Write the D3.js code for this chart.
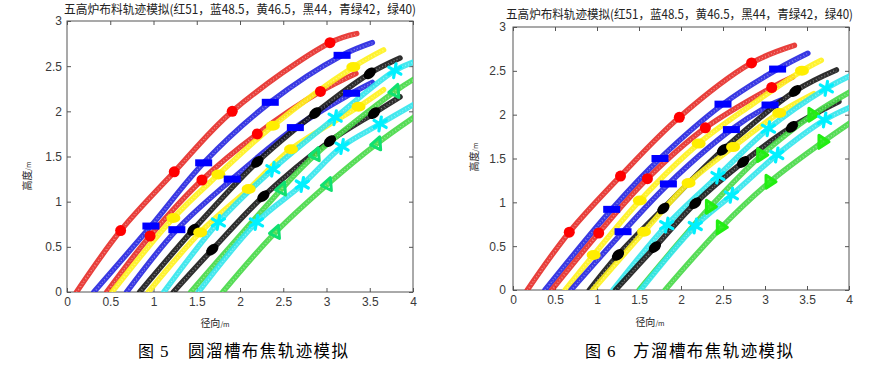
<!DOCTYPE html>
<html><head><meta charset="utf-8">
<script src="https://cdn.jsdelivr.net/npm/d3@7/dist/d3.min.js"></script>
<style>body{margin:0;background:#fff}svg{display:block}</style>
</head><body><svg id="c" width="886" height="369"></svg>
<script>
const titleText = "五高炉布料轨迹模拟(红51，蓝48.5，黄46.5，黑44，青绿42，绿40)";
const xTicks = [0,0.5,1,1.5,2,2.5,3,3.5,4];
const yTicks = [0,0.5,1,1.5,2,2.5,3];
const xLabel = "径向", yLabel = "高度", unitLabel = "/m";
const captions = [["图", "5", "圆溜槽布焦轨迹模拟"], ["图", "6", "方溜槽布焦轨迹模拟"]];
// series of each of the 12 trajectories (two per colour)
const curveSeries = ["红","蓝","红","黄","蓝","黑","黄","青绿","黑","绿","青绿","绿"];

// Fig 5 (round chute) trajectories [radial, height]
const fig5Lines = [
  [[0.11,0],[0.62,0.68],[1.24,1.33],[1.91,2.0],[3.04,2.76],[3.35,2.86]],
  [[0.31,0],[0.97,0.73],[1.58,1.43],[2.35,2.10],[3.18,2.62],[3.53,2.76]],
  [[0.46,0],[0.96,0.62],[1.56,1.24],[2.20,1.75],[2.93,2.22],[3.34,2.42]],
  [[0.52,0],[1.23,0.82],[1.75,1.30],[2.38,1.84],[3.31,2.49],[3.66,2.68]],
  [[0.69,0],[1.27,0.69],[1.91,1.25],[2.64,1.82],[3.29,2.20],[3.53,2.32]],
  [[0.84,0],[1.46,0.69],[2.20,1.44],[2.87,1.98],[3.50,2.42],[3.85,2.59]],
  [[0.94,0],[1.54,0.66],[2.10,1.14],[2.59,1.58],[3.37,2.05],[3.66,2.24]],
  [[1.12,0],[1.75,0.77],[2.38,1.36],[3.10,1.93],[3.79,2.45],[4.05,2.56]],
  [[1.23,0],[1.68,0.47],[2.27,1.06],[3.04,1.67],[3.55,1.98],[3.85,2.16]],
  [[1.43,0],[2.48,1.14],[2.87,1.52],[3.79,2.22],[4.05,2.38]],
  [[1.52,0],[2.19,0.77],[2.72,1.19],[3.18,1.61],[3.62,1.86],[4.05,2.10]],
  [[1.80,0],[2.41,0.66],[3.01,1.19],[3.58,1.64],[4.05,1.96]]
];
const fig5Marks = [
  [[0.62,0.68],[1.24,1.33],[1.91,2.0],[3.04,2.76]],
  [[0.97,0.73],[1.58,1.43],[2.35,2.10],[3.18,2.62]],
  [[0.96,0.62],[1.56,1.24],[2.20,1.75],[2.93,2.22]],
  [[1.23,0.82],[1.75,1.30],[2.38,1.84],[3.31,2.49]],
  [[1.27,0.69],[1.91,1.25],[2.64,1.82],[3.29,2.20]],
  [[1.46,0.69],[2.20,1.44],[2.87,1.98],[3.50,2.42]],
  [[1.54,0.66],[2.10,1.14],[2.59,1.58],[3.37,2.05]],
  [[1.75,0.77],[2.38,1.36],[3.10,1.93],[3.79,2.45]],
  [[1.68,0.47],[2.27,1.06],[3.04,1.67],[3.55,1.98]],
  [[2.48,1.14],[2.87,1.52],[3.79,2.22]],
  [[2.19,0.77],[2.72,1.19],[3.18,1.61],[3.62,1.86]],
  [[2.41,0.66],[3.01,1.19],[3.58,1.64]]
];

// Fig 6 (square chute) trajectories
const fig6Lines = [
  [[0.17,0],[0.67,0.66],[1.28,1.30],[1.98,1.97],[2.84,2.59],[3.35,2.79]],
  [[0.38,0],[1.175,0.92],[1.75,1.50],[2.5,2.12],[3.15,2.52],[3.51,2.70]],
  [[0.46,0],[1.02,0.65],[1.60,1.27],[2.29,1.85],[3.08,2.31],[3.33,2.43]],
  [[0.62,0],[0.96,0.40],[1.51,1.02],[2.21,1.67],[2.85,2.12],[3.44,2.50],[3.67,2.62]],
  [[0.69,0],[1.31,0.665],[1.85,1.21],[2.60,1.83],[3.06,2.11],[3.20,2.17]],
  [[0.91,0],[1.25,0.40],[1.79,0.93],[2.50,1.60],[3.36,2.27],[3.85,2.51]],
  [[0.95,0],[1.56,0.665],[2.09,1.22],[2.62,1.63],[3.17,2.02],[3.58,2.24]],
  [[1.19,0],[1.83,0.74],[2.44,1.30],[3.04,1.84],[3.73,2.30],[4.05,2.46]],
  [[1.22,0],[1.69,0.49],[2.17,0.99],[2.74,1.46],[3.32,1.86],[3.88,2.15]],
  [[1.50,0],[2.35,0.95],[2.96,1.54],[3.57,2.0],[4.05,2.28]],
  [[1.52,0],[2.17,0.73],[2.60,1.08],[3.14,1.54],[3.71,1.94],[4.05,2.10]],
  [[1.81,0],[2.48,0.715],[3.06,1.235],[3.69,1.69],[4.05,1.93]]
];
const fig6Marks = [
  [[0.67,0.66],[1.28,1.30],[1.98,1.97],[2.84,2.59]],
  [[1.175,0.92],[1.75,1.50],[2.5,2.12],[3.15,2.52]],
  [[1.02,0.65],[1.60,1.27],[2.29,1.85],[3.08,2.31]],
  [[0.96,0.40],[1.51,1.02],[2.21,1.67],[3.44,2.50]],
  [[1.31,0.665],[1.85,1.21],[2.60,1.83],[3.06,2.11]],
  [[1.25,0.40],[1.79,0.93],[2.50,1.60],[3.36,2.27]],
  [[1.56,0.665],[2.09,1.22],[2.62,1.63],[3.17,2.02]],
  [[1.83,0.74],[2.44,1.30],[3.04,1.84],[3.73,2.30]],
  [[1.69,0.49],[2.17,0.99],[2.74,1.46],[3.32,1.86]],
  [[2.35,0.95],[2.96,1.54],[3.57,2.0]],
  [[2.17,0.73],[2.60,1.08],[3.14,1.54],[3.71,1.94]],
  [[2.48,0.715],[3.06,1.235],[3.69,1.69]]
];

const lineColor = {"红":"#e52a26","蓝":"#2424e0","黄":"#fff21a","黑":"#161616","青绿":"#30e6ec","绿":"#44d844"};
const svg = d3.select("#c");
const cjk = "'Noto Sans CJK SC','Noto Sans',sans-serif";
const sans = "'Liberation Sans',Arial,sans-serif";
const serif = "'Liberation Serif','DejaVu Serif',serif";

const panels = [
  {box:[67,413,21,292], lines:fig5Lines, marks:fig5Marks, title:[64,352,13.5], ylab:[31,176], xlab:[215,327], cap:[138,160,188,357], green:"#10e070", greenFill:false, yPad:5},
  {box:[513,849,27,290], lines:fig6Lines, marks:fig6Marks, title:[506,347,18.5], ylab:[478,157], xlab:[650,326], cap:[585,607,633,357], green:"#22ee11", greenFill:true, yPad:7}
];

panels.forEach((p,pi)=>{
  const [x0,x1,y0,y1] = p.box;
  const x = d3.scaleLinear().domain([0,4]).range([x0,x1]);
  const y = d3.scaleLinear().domain([0,3]).range([y1,y0]);
  const g = svg.append("g");
  const cid = "clip"+pi;
  svg.append("clipPath").attr("id",cid).append("rect").attr("x",x0).attr("y",y0).attr("width",x1-x0).attr("height",y1-y0);

  const fmt = d=>String(d);
  const axB = g.append("g").attr("transform",`translate(0,${y1})`).call(d3.axisBottom(x).tickValues(xTicks).tickFormat(fmt).tickSizeInner(-4).tickSizeOuter(0).tickPadding(5));
  const axT = g.append("g").attr("transform",`translate(0,${y0})`).call(d3.axisTop(x).tickValues(xTicks).tickFormat("").tickSizeInner(-4).tickSizeOuter(0));
  const axL = g.append("g").attr("transform",`translate(${x0},0)`).call(d3.axisLeft(y).tickValues(yTicks).tickFormat(fmt).tickSizeInner(-4).tickSizeOuter(0).tickPadding(p.yPad));
  const axR = g.append("g").attr("transform",`translate(${x1},0)`).call(d3.axisRight(y).tickValues(yTicks).tickFormat("").tickSizeInner(-4).tickSizeOuter(0));
  [axB,axT,axL,axR].forEach(a=>{
    a.select(".domain").remove();
    a.selectAll("line").attr("stroke","#555");
    a.selectAll("text").attr("font-family",sans).attr("font-size",12).attr("fill","#3a3a3a");
  });
  g.append("rect").attr("x",x0).attr("y",y0).attr("width",x1-x0).attr("height",y1-y0)
    .attr("fill","none").attr("stroke","#555").attr("stroke-width",1);

  const line = d3.line().x(d=>x(d[0])).y(d=>y(d[1])).curve(d3.curveCatmullRom.alpha(0.5));
  const lg = g.append("g").attr("clip-path",`url(#${cid})`);
  p.lines.forEach((pts,i)=>{
    const s = curveSeries[i];
    lg.append("path").attr("d",line(pts)).attr("fill","none")
      .attr("stroke",lineColor[s]).attr("stroke-width",5.5).attr("stroke-linecap","round").attr("opacity",0.9);
    lg.append("path").attr("d",line(pts)).attr("fill","none")
      .attr("stroke","#fff").attr("stroke-width",1.3).attr("stroke-dasharray","1 2.2").attr("opacity",0.4);
    lg.append("path").attr("d",line(pts)).attr("fill","none").attr("transform","translate(0,1.6)")
      .attr("stroke","#fff").attr("stroke-width",0.9).attr("stroke-dasharray","1 3.1").attr("opacity",0.3);
  });

  const mg = g.append("g").attr("clip-path",`url(#${cid})`);
  p.marks.forEach((pts,i)=>{
    const s = curveSeries[i];
    pts.forEach(d=>{
      const cx = x(d[0]), cy = y(d[1]);
      if (s==="红") {
        mg.append("circle").attr("cx",cx).attr("cy",cy).attr("r",5.5).attr("fill","#ff0000");
      } else if (s==="蓝") {
        mg.append("rect").attr("x",cx-8.5).attr("y",cy-3.5).attr("width",17).attr("height",7).attr("fill","#0000ff");
      } else if (s==="黄") {
        mg.append("ellipse").attr("cx",cx).attr("cy",cy).attr("rx",7).attr("ry",5).attr("fill","#ffee00");
      } else if (s==="黑") {
        mg.append("ellipse").attr("cx",cx).attr("cy",cy).attr("rx",7).attr("ry",4.8).attr("fill","#000")
          .attr("transform",`rotate(-42,${cx},${cy})`);
      } else if (s==="青绿") {
        [100,30,-30].forEach(a=>{
          const r = a*Math.PI/180, L = 7;
          mg.append("line").attr("x1",cx-L*Math.cos(r)).attr("y1",cy-L*Math.sin(r))
            .attr("x2",cx+L*Math.cos(r)).attr("y2",cy+L*Math.sin(r))
            .attr("stroke","#00f0ff").attr("stroke-width",3.2).attr("stroke-linecap","round");
        });
      } else if (s==="绿") {
        const tri = p.greenFill
          ? [[cx-4,cy-6.5],[cx+6,cy],[cx-4,cy+6.5]]
          : [[cx-6,cy+1],[cx+3,cy-7],[cx+4,cy+6]];
        mg.append("path").attr("d","M"+tri.map(t=>t.join(",")).join("L")+"Z")
          .attr("fill", p.greenFill ? "#22ee11" : "none").attr("fill-opacity",0.7)
          .attr("stroke",p.green).attr("stroke-width",3).attr("stroke-linejoin","round");
      }
    });
  });

  svg.append("text").attr("x",p.title[0]).attr("y",p.title[2]).attr("font-family",cjk).attr("font-size",12.5)
    .attr("fill","#222").attr("textLength",p.title[1]).attr("lengthAdjust","spacingAndGlyphs").text(titleText);
  const yl = svg.append("text").attr("transform",`translate(${p.ylab[0]},${p.ylab[1]}) rotate(-90)`)
    .attr("text-anchor","middle").attr("font-family",cjk).attr("fill","#222");
  yl.append("tspan").attr("font-size",10).text(yLabel);
  yl.append("tspan").attr("font-size",7).text(unitLabel);
  const xl = svg.append("text").attr("x",p.xlab[0]).attr("y",p.xlab[1]).attr("text-anchor","middle")
    .attr("font-family",cjk).attr("fill","#222");
  xl.append("tspan").attr("font-size",10).text(xLabel);
  xl.append("tspan").attr("font-size",7).text(unitLabel);
  svg.append("text").attr("x",p.cap[0]).attr("y",p.cap[3]).attr("font-family",cjk).attr("font-size",16)
    .attr("fill","#000").text(captions[pi][0]);
  svg.append("text").attr("x",p.cap[1]).attr("y",p.cap[3]).attr("font-family",serif).attr("font-size",17)
    .attr("fill","#000").text(captions[pi][1]);
  svg.append("text").attr("x",p.cap[2]).attr("y",p.cap[3]).attr("font-family",cjk).attr("font-size",16.5)
    .attr("fill","#000").attr("textLength",160).attr("lengthAdjust","spacing").text(captions[pi][2]);
});
</script>
</body></html>
